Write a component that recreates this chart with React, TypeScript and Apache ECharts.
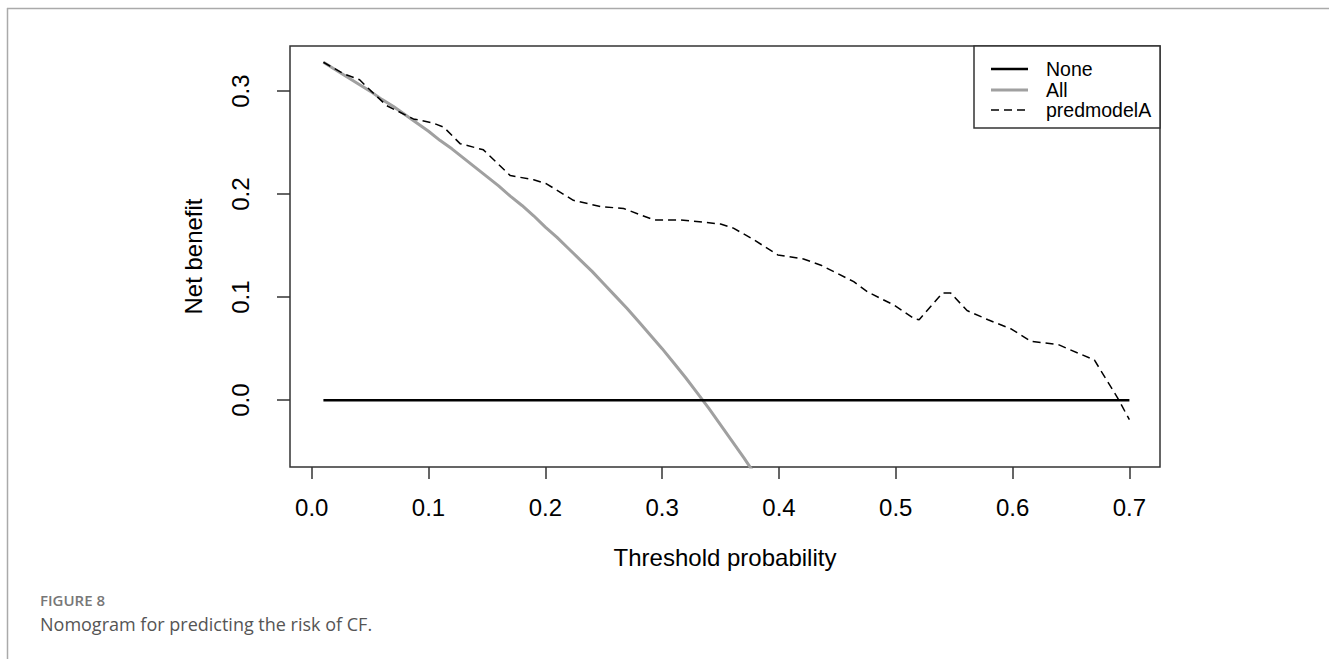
import React, { useEffect, useRef } from "react";
import * as echarts from "echarts";

const xTicks = [0, 0.1, 0.2, 0.3, 0.4, 0.5, 0.6, 0.7];
const yTicks = [0, 0.1, 0.2, 0.3];

const thresholdsNone = [0.01, 0.7];
const netBenefitNone = [0, 0];

const thresholdsAll = [
  0.01, 0.02, 0.03, 0.04, 0.05, 0.06, 0.07, 0.08, 0.09, 0.1, 0.11, 0.12, 0.13,
  0.14, 0.15, 0.16, 0.17, 0.18, 0.19, 0.2, 0.21, 0.22, 0.23, 0.24, 0.25, 0.26,
  0.27, 0.28, 0.29, 0.3, 0.31, 0.32, 0.33, 0.34, 0.35, 0.36, 0.37, 0.38,
];
const netBenefitAll = [
  0.328, 0.321, 0.314, 0.307, 0.3, 0.292, 0.285, 0.277, 0.269, 0.261, 0.252,
  0.244, 0.235, 0.226, 0.217, 0.208, 0.198, 0.189, 0.179, 0.168, 0.158, 0.147,
  0.136, 0.125, 0.113, 0.101, 0.089, 0.076, 0.063, 0.05, 0.036, 0.022, 0.007,
  -0.008, -0.024, -0.04, -0.056, -0.073,
];

const thresholdsModel = [
  0.01, 0.027, 0.041, 0.05, 0.064, 0.087, 0.104, 0.113, 0.127, 0.147, 0.17,
  0.19, 0.201, 0.224, 0.247, 0.267, 0.293, 0.316, 0.35, 0.361, 0.378, 0.399,
  0.421, 0.436, 0.464, 0.476, 0.499, 0.516, 0.52, 0.54, 0.547, 0.561, 0.579,
  0.599, 0.616, 0.639, 0.647, 0.67, 0.69, 0.7,
];
const netBenefitModel = [
  0.328, 0.317, 0.311, 0.301, 0.286, 0.273, 0.269, 0.265, 0.249, 0.243, 0.218,
  0.214, 0.21, 0.194, 0.188, 0.186, 0.175, 0.175, 0.171, 0.167, 0.156, 0.141,
  0.137, 0.131, 0.115, 0.105, 0.092, 0.079, 0.078, 0.104, 0.104, 0.087, 0.078,
  0.069, 0.057, 0.054, 0.05, 0.039, 0.002, -0.019,
];

const legendLabels = ["None", "All", "predmodelA"];

const FONT = "'Liberation Sans', Arial, sans-serif";
const CAPTION_FONT = "'Open Sans', 'Noto Sans', sans-serif";

const pairs = (xs: number[], ys: number[]) => xs.map((x, i) => [x, ys[i]]);

export default function App() {
  const ref = useRef<HTMLDivElement>(null);

  useEffect(() => {
    if (!ref.current) return;
    const chart = echarts.init(ref.current, null, { renderer: "svg" });
    const axisStroke = { color: "#333", width: 1.5 };

    chart.setOption({
      animation: false,
      backgroundColor: "#ffffff",
      grid: {
        left: 290,
        top: 46,
        width: 870,
        height: 421,
        show: true,
        borderColor: "#333",
        borderWidth: 1.5,
        backgroundColor: "transparent",
      },
      xAxis: {
        type: "value",
        min: -0.0186,
        max: 0.7262,
        name: "Threshold probability",
        nameLocation: "middle",
        nameGap: 78,
        nameTextStyle: { fontFamily: FONT, fontSize: 24, color: "#000" },
        axisLine: { show: false, onZero: false },
        axisTick: { show: true, customValues: xTicks, length: 12, lineStyle: axisStroke },
        axisLabel: {
          customValues: xTicks,
          formatter: (v: number) => v.toFixed(1),
          margin: 28,
          fontFamily: FONT,
          fontSize: 24,
          color: "#000",
        },
        splitLine: { show: false },
      },
      yAxis: {
        type: "value",
        min: -0.0649,
        max: 0.3438,
        name: "Net benefit",
        nameLocation: "middle",
        nameGap: 85,
        nameRotate: 90,
        nameTextStyle: { fontFamily: FONT, fontSize: 24, color: "#000" },
        axisLine: { show: false, onZero: false },
        axisTick: { show: true, customValues: yTicks, length: 13, lineStyle: axisStroke },
        axisLabel: {
          customValues: yTicks,
          formatter: (v: number) => v.toFixed(1),
          rotate: 90,
          margin: 38,
          fontFamily: FONT,
          fontSize: 24,
          color: "#000",
        },
        splitLine: { show: false },
      },
      series: [
        {
          name: "predmodelA",
          type: "line",
          data: pairs(thresholdsModel, netBenefitModel),
          symbol: "none",
          lineStyle: { color: "#000", width: 1.5, type: [8, 5] },
          z: 3,
        },
        {
          name: "All",
          type: "line",
          data: pairs(thresholdsAll, netBenefitAll),
          symbol: "none",
          clip: true,
          lineStyle: { color: "#a0a0a0", width: 3 },
          z: 2,
        },
        {
          name: "None",
          type: "line",
          data: pairs(thresholdsNone, netBenefitNone),
          symbol: "none",
          lineStyle: { color: "#000", width: 2.5 },
          z: 4,
        },
      ],
      graphic: [
        { type: "line", shape: { x1: 7, y1: 8.5, x2: 1329, y2: 8.5 }, style: { stroke: "#aaa", lineWidth: 1.5 } },
        { type: "line", shape: { x1: 7.5, y1: 8, x2: 7.5, y2: 659 }, style: { stroke: "#aaa", lineWidth: 1.5 } },
        {
          type: "rect",
          shape: { x: 974, y: 46, width: 186, height: 82 },
          style: { fill: "#fff", stroke: "#333", lineWidth: 1.5 },
          z: 10,
        },
        { type: "line", shape: { x1: 991, y1: 69, x2: 1028, y2: 69 }, style: { stroke: "#000", lineWidth: 2.5 }, z: 11 },
        { type: "line", shape: { x1: 991, y1: 90, x2: 1028, y2: 90 }, style: { stroke: "#a0a0a0", lineWidth: 3 }, z: 11 },
        {
          type: "line",
          shape: { x1: 991, y1: 110, x2: 1028, y2: 110 },
          style: { stroke: "#000", lineWidth: 1.5, lineDash: [8, 5] },
          z: 11,
        },
        ...legendLabels.map((t, i) => ({
          type: "text",
          x: 1046,
          y: [69, 90, 110][i],
          style: { text: t, fontFamily: FONT, fontSize: 19.5, fill: "#000", verticalAlign: "middle", align: "left" },
          z: 11,
        })),
        {
          type: "text",
          x: 40,
          y: 600,
          style: {
            text: "FIGURE 8",
            fontFamily: CAPTION_FONT,
            fontSize: 15,
            fontWeight: 600,
            fill: "#777",
            verticalAlign: "middle",
          },
        },
        {
          type: "text",
          x: 40,
          y: 624,
          style: {
            text: "Nomogram for predicting the risk of CF.",
            fontFamily: CAPTION_FONT,
            fontSize: 18,
            fill: "#555",
            verticalAlign: "middle",
          },
        },
      ],
    });

    return () => chart.dispose();
  }, []);

  return (
    <div
      ref={ref}
      style={{ position: "fixed", left: 0, top: 0, width: 1329, height: 659, background: "#fff" }}
    />
  );
}
